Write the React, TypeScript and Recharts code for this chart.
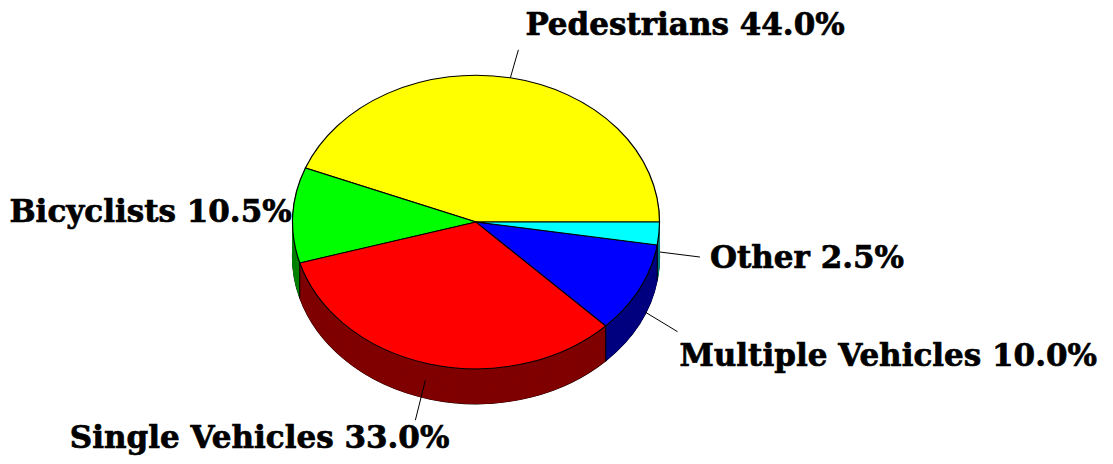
import React from "react";
import { PieChart, Pie, Cell } from "recharts";

const categories = ["Pedestrians", "Bicyclists", "Single Vehicles", "Multiple Vehicles", "Other"];
const shares = [44.0, 10.5, 33.0, 10.0, 2.5];
const topColors = ["#FFFF00", "#00FF00", "#FF0000", "#0000FF", "#00FFFF"];
const sideColors = ["#808000", "#008000", "#800000", "#000080", "#008080"];

const data = categories.map((name, i) => ({ name, value: shares[i] }));

// layout
const W = 1113;
const H = 464;
const CX = 476;
const CY = 222;
const RX = 183.5;
const SQUASH = 0.8;
const DEPTH = 35; // screen px
const FONT = "'DejaVu Serif', serif";
const NO_MARGIN = { top: 0, right: 0, bottom: 0, left: 0 };

// label placement relative to the rim point at each slice's mid-angle (screen px)
const labelLayout: Record<string, { line?: [number, number, number, number]; tx: number; ty: number; anchor: "start" | "end" | "middle" }> = {
  Pedestrians: { line: [0, 0, 8, -28], tx: 15, ty: -43, anchor: "start" },
  Bicyclists: { tx: -1, ty: 7, anchor: "end" },
  "Single Vehicles": { line: [-5, 16, -15, 56], tx: 19, ty: 84, anchor: "end" },
  "Multiple Vehicles": { line: [5, 23, 38, 43], tx: 40, ty: 77, anchor: "start" },
  Other: { line: [1, 18.5, 41, 23.5], tx: 51, ty: 34.5, anchor: "start" },
};

const chartCY = CY / SQUASH;
const depthChart = DEPTH / SQUASH;
const layerOffsets: number[] = [];
for (let d = depthChart; d > 0; d -= 0.8) layerOffsets.push(d);

const renderLabel = (props: any) => {
  const { cx, cy, midAngle, startAngle, outerRadius, name, value } = props;
  const rad = (midAngle * Math.PI) / 180;
  const px = cx + outerRadius * Math.cos(rad);
  const py = cy - outerRadius * SQUASH * Math.sin(rad);
  const sRad = (startAngle * Math.PI) / 180;
  const sx = cx + outerRadius * Math.cos(sRad);
  const sy = cy - outerRadius * SQUASH * Math.sin(sRad);
  const frontEdge = Math.sin(sRad) < -0.01;
  const cfg = labelLayout[name];
  if (!cfg) return null;
  return (
    <g key={`lbl-${name}`}>
      {frontEdge && <line x1={sx} y1={sy} x2={sx} y2={sy + DEPTH} stroke="#000" strokeWidth={1} />}
      {cfg.line && (
        <line
          x1={px + cfg.line[0]}
          y1={py + cfg.line[1]}
          x2={px + cfg.line[2]}
          y2={py + cfg.line[3]}
          stroke="#000"
          strokeWidth={1}
        />
      )}
      <text
        x={px + cfg.tx}
        y={py + cfg.ty}
        textAnchor={cfg.anchor}
        fontFamily={FONT}
        fontWeight="bold"
        fontSize={31}
        fill="#000"
        stroke="#000"
        strokeWidth={0.7}
      >
        {`${name} ${Number(value).toFixed(1)}%`}
      </text>
    </g>
  );
};

export default function App() {
  return (
    <div style={{ position: "absolute", left: 0, top: 0, width: W, height: H, background: "#fff", overflow: "hidden" }}>
      <div
        style={{
          position: "absolute",
          left: 0,
          top: 0,
          width: W,
          height: H / SQUASH,
          transform: `scaleY(${SQUASH})`,
          transformOrigin: "0 0",
        }}
      >
        <PieChart width={W} height={H / SQUASH} margin={NO_MARGIN}>
          <Pie
            key="bottom"
            data={data}
            dataKey="value"
            nameKey="name"
            cx={CX}
            cy={chartCY + depthChart}
            outerRadius={RX}
            startAngle={0}
            endAngle={360}
            stroke="#000"
            strokeWidth={1.2}
            isAnimationActive={false}
            label={false}
            labelLine={false}
          >
            {data.map((d, i) => (
              <Cell key={d.name} fill={sideColors[i]} />
            ))}
          </Pie>
          {layerOffsets.map((off) => (
            <Pie
              key={`layer-${off}`}
              data={data}
              dataKey="value"
              nameKey="name"
              cx={CX}
              cy={chartCY + off}
              outerRadius={RX}
              startAngle={0}
              endAngle={360}
              stroke="none"
              isAnimationActive={false}
              label={false}
              labelLine={false}
            >
              {data.map((d, i) => (
                <Cell key={d.name} fill={sideColors[i]} stroke={sideColors[i]} strokeWidth={0.5} />
              ))}
            </Pie>
          ))}
          <Pie
            key="top"
            data={data}
            dataKey="value"
            nameKey="name"
            cx={CX}
            cy={chartCY}
            outerRadius={RX}
            startAngle={0}
            endAngle={360}
            stroke="#000"
            strokeWidth={1.2}
            isAnimationActive={false}
            label={false}
            labelLine={false}
          >
            {data.map((d, i) => (
              <Cell key={d.name} fill={topColors[i]} />
            ))}
          </Pie>
        </PieChart>
      </div>
      <div style={{ position: "absolute", left: 0, top: 0, width: W, height: H }}>
        <PieChart width={W} height={H} margin={NO_MARGIN}>
          <Pie
            data={data}
            dataKey="value"
            nameKey="name"
            cx={CX}
            cy={CY}
            outerRadius={RX}
            startAngle={0}
            endAngle={360}
            fill="none"
            stroke="none"
            isAnimationActive={false}
            label={renderLabel}
            labelLine={false}
          >
            {data.map((d) => (
              <Cell key={d.name} fill="transparent" stroke="none" />
            ))}
          </Pie>
        </PieChart>
      </div>
    </div>
  );
}
